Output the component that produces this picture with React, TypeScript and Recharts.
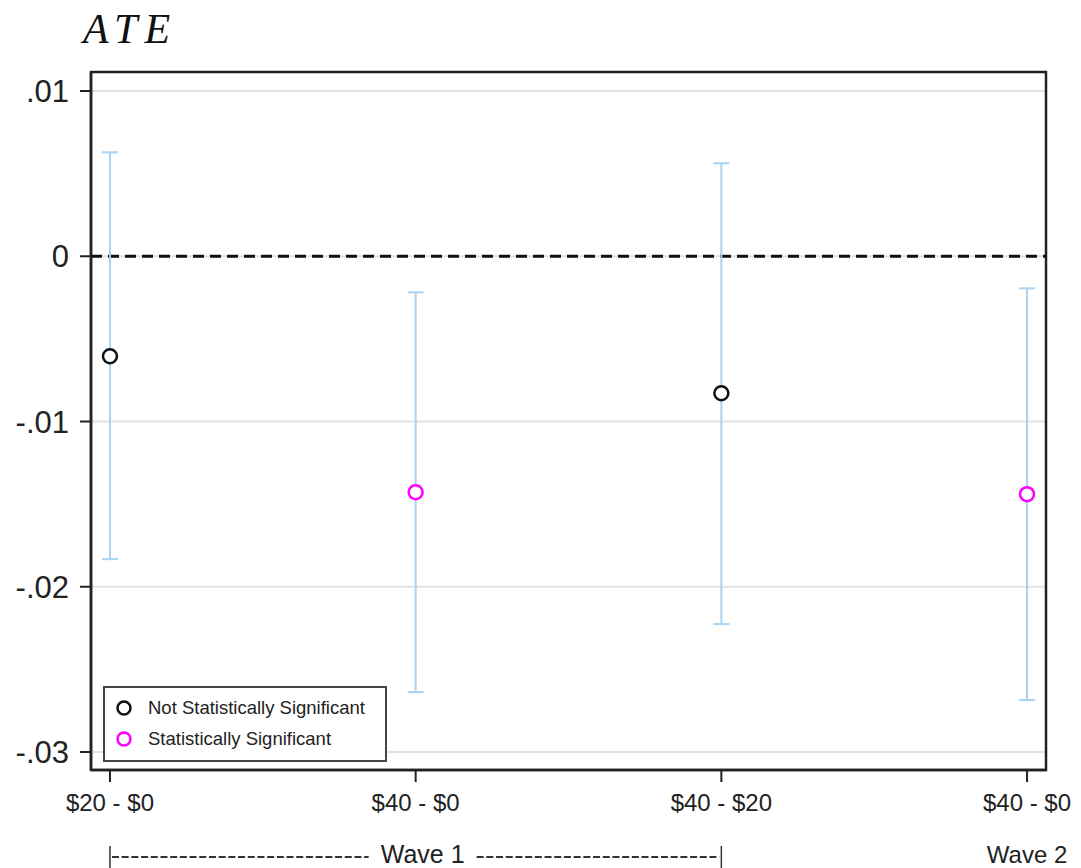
import {
  ScatterChart,
  Scatter,
  XAxis,
  YAxis,
  CartesianGrid,
  ReferenceLine,
  ReferenceArea,
  ErrorBar,
} from 'recharts';

const categories = ['$20 - $0', '$40 - $0', '$40 - $20', '$40 - $0'];
const estimates = [-0.00605, -0.01428, -0.00829, -0.0144];
const ciLow = [-0.01833, -0.02638, -0.02226, -0.02686];
const ciHigh = [0.00629, -0.00218, 0.00563, -0.00194];
const significant = [false, true, false, true];
const yTicks = [0.01, 0, -0.01, -0.02, -0.03];
const waveLabels = ['Wave 1', 'Wave 2'];

const W = 1081;
const H = 868;
const X_DOMAIN: [number, number] = [-0.062, 3.062];
const Y_DOMAIN: [number, number] = [-0.03109, 0.01115];
const PLOT_LEFT = 91;
const PLOT_RIGHT = 35;
const UNIT = (W - PLOT_LEFT - PLOT_RIGHT) / (X_DOMAIN[1] - X_DOMAIN[0]);

const FONT = '"Liberation Sans", Arial, sans-serif';
const CI_COLOR = '#a9d3f0';

const points = categories.map((label, i) => ({
  x: i,
  y: estimates[i],
  label,
  err: [estimates[i] - ciLow[i], ciHigh[i] - estimates[i]],
  sig: significant[i],
}));

const notSig = points.filter((p) => !p.sig);
const sig = points.filter((p) => p.sig);

function formatY(v: number): string {
  if (v === 0) return '0';
  return v.toFixed(2).replace('0.', '.');
}

function ringShape(color: string) {
  return (props: any) => (
    <circle cx={props.cx} cy={props.cy} r={7} fill="#fff" stroke={color} strokeWidth={2.5} />
  );
}

function WaveTick(props: any) {
  const { x, y, payload } = props;
  if (payload.value === 1) {
    return (
      <g>
        <line x1={x - UNIT} y1={y + 26} x2={x - UNIT} y2={y + 48} stroke="#333" strokeWidth={1.5} />
        <line x1={x + UNIT} y1={y + 26} x2={x + UNIT} y2={y + 48} stroke="#333" strokeWidth={1.5} />
        <line x1={x - UNIT + 2} y1={y + 37} x2={x - 47} y2={y + 37} stroke="#333" strokeWidth={2} strokeDasharray="7 2.7" />
        <line x1={x + 61} y1={y + 37} x2={x + UNIT - 2} y2={y + 37} stroke="#333" strokeWidth={2} strokeDasharray="7 2.7" />
        <text x={x + 7} y={y + 43} textAnchor="middle" fontFamily={FONT} fontSize={25} fill="#222">
          {waveLabels[0]}
        </text>
      </g>
    );
  }
  return (
    <text x={x} y={y + 43} textAnchor="middle" fontFamily={FONT} fontSize={24} fill="#222">
      {waveLabels[1]}
    </text>
  );
}

function LegendBox() {
  const rows = [
    { color: '#111', text: 'Not Statistically Significant' },
    { color: '#ff00ff', text: 'Statistically Significant' },
  ];
  return (
    <div
      style={{
        position: 'absolute',
        left: 103,
        top: 686,
        width: 280,
        height: 72,
        border: '2px solid #444',
        background: '#fff',
        fontFamily: FONT,
        fontSize: 18.5,
        color: '#222',
      }}
    >
      {rows.map((r, i) => (
        <div key={i} style={{ position: 'absolute', left: 10, top: 10 + i * 31, display: 'flex', alignItems: 'center' }}>
          <svg width={18} height={18}>
            <circle cx={9} cy={9} r={6.5} fill="#fff" stroke={r.color} strokeWidth={2.5} />
          </svg>
          <span style={{ marginLeft: 15, lineHeight: '20px' }}>{r.text}</span>
        </div>
      ))}
    </div>
  );
}

export default function App() {
  return (
    <div style={{ position: 'absolute', left: 0, top: 0, width: W, height: H, background: '#fff' }}>
      <div
        style={{
          position: 'absolute',
          left: 83,
          top: 8,
          fontFamily: '"Liberation Serif", "Times New Roman", serif',
          fontStyle: 'italic',
          fontSize: 42,
          lineHeight: '42px',
          letterSpacing: 7,
          color: '#111',
        }}
      >
        ATE
      </div>
      <ScatterChart width={W} height={H} margin={{ top: 72, right: PLOT_RIGHT, left: 0, bottom: 0 }}>
        <CartesianGrid horizontal vertical={false} stroke="#e2e2e2" strokeWidth={2} />
        <XAxis
          type="number"
          dataKey="x"
          domain={X_DOMAIN}
          ticks={[0, 1, 2, 3]}
          tickFormatter={(v) => categories[v]}
          height={50}
          axisLine={{ stroke: '#222', strokeWidth: 2.5 }}
          tickLine={{ stroke: '#222', strokeWidth: 2 }}
          tickSize={12}
          tickMargin={12}
          tick={{ fontFamily: FONT, fontSize: 24, fill: '#222' }}
          allowDataOverflow
        />
        <XAxis
          xAxisId="wave"
          type="number"
          dataKey="x"
          domain={X_DOMAIN}
          ticks={[1, 3]}
          height={48}
          axisLine={false}
          tickLine={false}
          tickSize={0}
          tickMargin={0}
          tick={<WaveTick />}
          allowDataOverflow
        />
        <YAxis
          type="number"
          dataKey="y"
          domain={Y_DOMAIN}
          ticks={yTicks}
          tickFormatter={formatY}
          width={PLOT_LEFT}
          axisLine={{ stroke: '#222', strokeWidth: 2.5 }}
          tickLine={{ stroke: '#222', strokeWidth: 2 }}
          tickSize={11}
          tickMargin={11}
          tick={{ fontFamily: FONT, fontSize: 31, fill: '#222' }}
          allowDataOverflow
        />
        <ReferenceArea
          x1={X_DOMAIN[0]}
          x2={X_DOMAIN[1]}
          y1={Y_DOMAIN[0]}
          y2={Y_DOMAIN[1]}
          fill="none"
          fillOpacity={0}
          stroke="#222"
          strokeWidth={2.5}
          strokeOpacity={1}
          ifOverflow="visible"
        />
        <ReferenceLine y={0} stroke="#111" strokeWidth={3} strokeDasharray="11 6" />
        <Scatter data={notSig} shape={ringShape('#111')} isAnimationActive={false}>
          <ErrorBar dataKey="err" direction="y" width={8} stroke={CI_COLOR} strokeWidth={2} isAnimationActive={false} />
        </Scatter>
        <Scatter data={sig} shape={ringShape('#ff00ff')} isAnimationActive={false}>
          <ErrorBar dataKey="err" direction="y" width={8} stroke={CI_COLOR} strokeWidth={2} isAnimationActive={false} />
        </Scatter>
      </ScatterChart>
      <LegendBox />
    </div>
  );
}
